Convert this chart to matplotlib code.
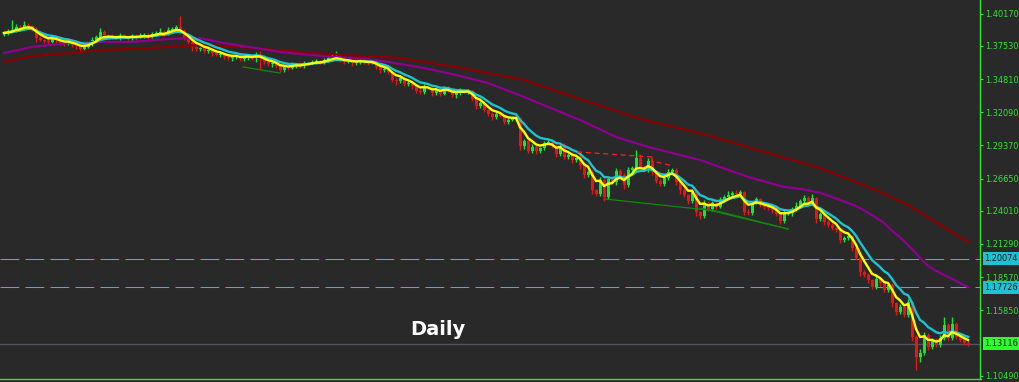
import numpy as np
import pandas as pd
import matplotlib
matplotlib.use("Agg")
import matplotlib.pyplot as plt
from matplotlib.transforms import blended_transform_factory

# daily closes (one per bar)
close = [
    1.3858, 1.3875, 1.3883, 1.3908, 1.3899, 1.3924, 1.3916, 1.3891, 1.3817, 1.3801,
    1.3793, 1.3785, 1.3817, 1.3801, 1.3776, 1.3768, 1.3785, 1.3760, 1.3752, 1.3727,
    1.3744, 1.3768, 1.3801, 1.3826, 1.3867, 1.3842, 1.3834, 1.3826, 1.3817, 1.3834,
    1.3826, 1.3817, 1.3834, 1.3826, 1.3834, 1.3842, 1.3826, 1.3850, 1.3858, 1.3867,
    1.3850, 1.3883, 1.3891, 1.3908, 1.3875, 1.3817, 1.3785, 1.3744, 1.3727, 1.3735,
    1.3711, 1.3719, 1.3694, 1.3678, 1.3686, 1.3662, 1.3653, 1.3662, 1.3670, 1.3645,
    1.3662, 1.3670, 1.3653, 1.3678, 1.3662, 1.3621, 1.3604, 1.3612, 1.3588, 1.3555,
    1.3580, 1.3571, 1.3596, 1.3604, 1.3588, 1.3612, 1.3612, 1.3621, 1.3629, 1.3621,
    1.3637, 1.3653, 1.3662, 1.3670, 1.3637, 1.3621, 1.3629, 1.3612, 1.3621, 1.3629,
    1.3621, 1.3612, 1.3621, 1.3580, 1.3555, 1.3563, 1.3539, 1.3473, 1.3465, 1.3489,
    1.3440, 1.3448, 1.3424, 1.3383, 1.3375, 1.3416, 1.3407, 1.3366, 1.3399, 1.3358,
    1.3407, 1.3391, 1.3350, 1.3366, 1.3383, 1.3375, 1.3383, 1.3317, 1.3260, 1.3284,
    1.3227, 1.3194, 1.3170, 1.3194, 1.3178, 1.3129, 1.3145, 1.3153, 1.3161, 1.2932,
    1.2973, 1.2891, 1.2924, 1.2891, 1.2915, 1.2956, 1.2965, 1.2932, 1.2866, 1.2932,
    1.2842, 1.2858, 1.2817, 1.2833, 1.2776, 1.2694, 1.2719, 1.2571, 1.2538, 1.2653,
    1.2514, 1.2661, 1.2637, 1.2727, 1.2694, 1.2612, 1.2735, 1.2751, 1.2833, 1.2760,
    1.2735, 1.2809, 1.2719, 1.2645, 1.2620, 1.2669, 1.2719, 1.2735, 1.2637, 1.2571,
    1.2530, 1.2481, 1.2563, 1.2391, 1.2358, 1.2464, 1.2415, 1.2464, 1.2432, 1.2489,
    1.2514, 1.2530, 1.2546, 1.2538, 1.2555, 1.2391, 1.2382, 1.2464, 1.2497, 1.2448,
    1.2432, 1.2423, 1.2407, 1.2374, 1.2317, 1.2382, 1.2382, 1.2415, 1.2440, 1.2481,
    1.2505, 1.2464, 1.2505, 1.2333, 1.2374, 1.2309, 1.2284, 1.2259, 1.2243, 1.2161,
    1.2177, 1.2194, 1.2095, 1.2013, 1.1899, 1.1874, 1.1833, 1.1776, 1.1841, 1.1808,
    1.1751, 1.1792, 1.1644, 1.1571, 1.1612, 1.1546, 1.1653, 1.1366, 1.1202, 1.1234,
    1.1382, 1.1284, 1.1341, 1.1300, 1.1357, 1.1464, 1.1357, 1.1472, 1.1366, 1.1341,
    1.1316, 1.1312,
]
first_open = 1.3850

# wick lengths above / below the body, in pips
wick_hi = [
    15, 20, 80, 25, 15, 30, 20, 10, 15, 20,
    10, 15, 25, 20, 10, 15, 20, 15, 10, 15,
    20, 15, 25, 20, 30, 15, 10, 20, 15, 25,
    15, 10, 20, 15, 25, 15, 20, 15, 20, 30,
    20, 25, 15, 20, 90, 15, 10, 20, 15, 10,
    15, 20, 10, 15, 20, 10, 25, 15, 10, 20,
    15, 20, 10, 25, 30, 15, 10, 20, 15, 10,
    20, 15, 25, 10, 15, 20, 10, 15, 20, 10,
    15, 20, 25, 40, 10, 15, 20, 15, 10, 20,
    15, 10, 20, 25, 10, 15, 20, 10, 15, 20,
    15, 20, 10, 15, 20, 25, 10, 15, 20, 10,
    15, 20, 10, 15, 25, 20, 15, 10, 15, 20,
    15, 10, 20, 15, 10, 15, 20, 25, 15, 10,
    20, 15, 25, 15, 10, 20, 15, 10, 15, 20,
    25, 15, 20, 10, 30, 15, 20, 15, 10, 25,
    15, 20, 10, 25, 15, 20, 25, 20, 70, 30,
    20, 25, 15, 10, 20, 15, 25, 20, 15, 10,
    15, 10, 20, 15, 10, 25, 20, 15, 20, 25,
    15, 30, 20, 25, 15, 10, 20, 15, 20, 10,
    15, 20, 10, 15, 20, 25, 15, 20, 30, 20,
    25, 20, 35, 10, 15, 10, 15, 20, 10, 15,
    20, 15, 10, 15, 10, 15, 20, 10, 25, 15,
    10, 20, 15, 10, 20, 15, 25, 10, 15, 30,
    25, 15, 20, 15, 25, 65, 20, 60, 20, 15,
    10, 15,
]
wick_lo = [
    20, 15, 10, 20, 25, 15, 20, 15, 30, 10,
    15, 20, 10, 25, 15, 20, 10, 15, 25, 20,
    15, 10, 20, 15, 25, 10, 20, 15, 10, 20,
    10, 20, 15, 25, 10, 15, 20, 10, 15, 20,
    15, 10, 20, 15, 25, 20, 15, 30, 20, 15,
    20, 15, 25, 10, 20, 15, 20, 25, 15, 20,
    15, 25, 20, 30, 100, 15, 20, 25, 15, 20,
    20, 15, 10, 25, 20, 15, 20, 10, 15, 20,
    15, 20, 10, 15, 20, 15, 10, 25, 20, 15,
    20, 15, 10, 15, 25, 20, 15, 20, 30, 15,
    20, 15, 25, 20, 15, 20, 10, 25, 15, 20,
    10, 15, 20, 25, 15, 10, 20, 15, 25, 20,
    15, 20, 25, 15, 10, 20, 15, 10, 15, 30,
    25, 20, 15, 25, 20, 15, 10, 20, 25, 15,
    20, 15, 25, 20, 30, 25, 20, 35, 20, 15,
    30, 20, 15, 25, 20, 30, 15, 20, 25, 15,
    20, 15, 25, 20, 15, 20, 15, 10, 25, 30,
    20, 25, 15, 35, 25, 20, 15, 20, 15, 10,
    15, 20, 10, 15, 20, 25, 20, 15, 10, 20,
    15, 20, 25, 20, 25, 15, 20, 25, 15, 10,
    15, 20, 15, 30, 20, 25, 20, 15, 20, 25,
    20, 15, 25, 20, 30, 20, 25, 20, 15, 25,
    20, 15, 30, 25, 20, 15, 20, 30, 110, 40,
    20, 25, 15, 20, 15, 20, 25, 15, 20, 15,
    15, 20,
]

# slow moving averages (history starts before the visible window)
purple_idx = [0, 7, 16, 24, 32, 41, 49, 55, 63, 69, 74, 82, 88, 96, 105, 113, 121,
              130, 136, 144, 153, 161, 174, 186, 195, 200, 204, 209, 213, 217, 220,
              222, 225, 227, 229, 231, 234, 236, 239, 241]
purple_val = [1.3694, 1.3744, 1.3776, 1.3785, 1.3785, 1.3809, 1.3817, 1.3776, 1.3735,
              1.3703, 1.3686, 1.3662, 1.3653, 1.3621, 1.3571, 1.3514, 1.3448, 1.3334,
              1.3252, 1.3145, 1.3006, 1.2924, 1.2817, 1.2678, 1.2596, 1.2575, 1.2548,
              1.2489, 1.2440, 1.2366, 1.2300, 1.2236, 1.2153, 1.2087, 1.2013, 1.1948,
              1.1890, 1.1857, 1.1808, 1.1773]
maroon_idx = [0, 7, 16, 24, 32, 41, 49, 59, 74, 89, 99, 113, 130, 141, 160, 174, 191,
              204, 218, 226, 234, 241]
maroon_val = [1.3621, 1.3670, 1.3694, 1.3719, 1.3727, 1.3744, 1.3760, 1.3744, 1.3703,
              1.3670, 1.3653, 1.3580, 1.3473, 1.3350, 1.3145, 1.3038, 1.2874, 1.2751,
              1.2571, 1.2448, 1.2284, 1.2145]

# hand drawn objects (bar index, price)
red_dash_a = ([143.25, 162.0], [1.2883, 1.2842])
red_dash_b = ([162.0, 162.0, 167.25], [1.2842, 1.2809, 1.2768])
green_line_a = ([150.25, 178.25, 196.0], [1.2497, 1.2399, 1.2251])
green_line_b = ([174.0, 196.0], [1.2423, 1.2251])
green_line_c = ([59.75, 69.0], [1.3580, 1.3530])

tick_prices = [1.40170, 1.37530, 1.34810, 1.32090, 1.29370, 1.26650,
               1.24010, 1.21290, 1.18570, 1.15850, 1.10490]
level_prices = [1.20074, 1.17726]
last_price = 1.13116

BG = "#292929"
BULL = "#18e636"
BEAR = "#ee1212"
AXIS_GREEN = "#2fe82f"
CYAN = "#1cc3d3"

c = np.array(close)
o = np.r_[first_open, c[:-1]]
hi = np.maximum(o, c) + np.array(wick_hi) * 1e-4
lo = np.minimum(o, c) - np.array(wick_lo) * 1e-4
x = np.arange(len(c))
ema_fast = pd.Series(c).ewm(span=5, adjust=False).mean()
ema_slow = pd.Series(c).ewm(span=10, adjust=False).mean()

fig = plt.figure(figsize=(10.2, 3.82), dpi=100, facecolor=BG)
ax = fig.add_axes([0, 3 / 382, 980.5 / 1020, 379 / 382])
ax.set_facecolor(BG)

up = c >= o
col = np.where(up, BULL, BEAR)
ax.vlines(x, lo, hi, colors=col, linewidth=1, zorder=2)
body = np.maximum(np.abs(c - o), 0.00012)
ax.bar(x, body, bottom=np.minimum(o, c), width=0.75, color=col, linewidth=0, zorder=3)

ax.plot(maroon_idx, maroon_val, color="#8b0000", lw=1.6, zorder=4)
ax.plot(purple_idx, purple_val, color="#8e008e", lw=1.6, zorder=4)
ax.plot(x, ema_slow, color=CYAN, lw=1.7, zorder=5)
ax.plot(x, ema_fast, color="#ffff00", lw=1.7, zorder=6)

for xs, ys in (red_dash_a, red_dash_b):
    ax.plot(xs, ys, color="#ff2020", lw=0.9, ls=(0, (4, 3)), zorder=7)
for xs, ys in (green_line_a, green_line_b, green_line_c):
    ax.plot(xs, ys, color="#0e8a0e", lw=0.9, zorder=7)

for p in level_prices:
    ax.axhline(p, color=CYAN, lw=0.75, ls=(0, (18, 6)), zorder=1)
ax.axhline(last_price, color="#4c5664", lw=1, zorder=1)

ax.set_xlim(-1, 244.1)
ax.set_ylim(1.1021, 1.4129)
ax.set_xticks([])
ax.yaxis.tick_right()
ax.set_yticks(tick_prices)
ax.set_yticklabels(["%.5f" % t for t in tick_prices])
ax.tick_params(axis="y", colors=AXIS_GREEN, labelsize=5.9, length=2, width=0.8, pad=1.5)
for side in ("top", "left"):
    ax.spines[side].set_visible(False)
for side in ("right", "bottom"):
    ax.spines[side].set_color(AXIS_GREEN)
    ax.spines[side].set_linewidth(1)

trans = blended_transform_factory(ax.transAxes, ax.transData)
for p, fc in ((level_prices[0], CYAN), (level_prices[1], CYAN), (last_price, "#2cff2c")):
    ax.text(1.004, p, "%.5f" % p, transform=trans, ha="left", va="center",
            fontsize=5.9, color="#141414", clip_on=False,
            bbox=dict(boxstyle="square,pad=0.22", fc=fc, ec="none"))

ax.text(0.418, 0.116, "Daily", transform=ax.transAxes, color="white",
        fontsize=14, fontweight="bold", va="baseline", ha="left")

fig.savefig("out.png", dpi=100, facecolor=BG)
